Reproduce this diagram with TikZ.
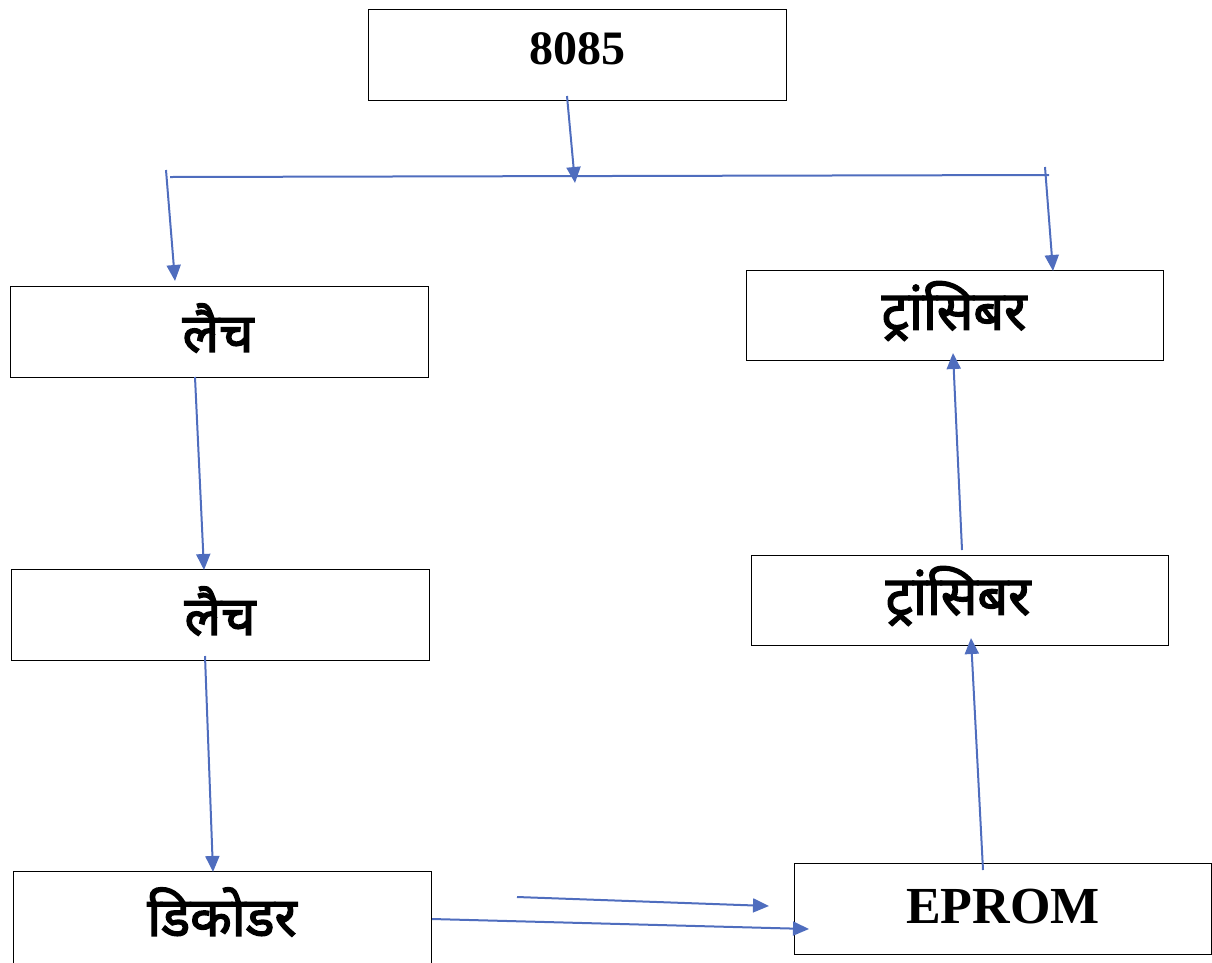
\documentclass[tikz,border=0pt]{standalone}
\usepackage{fontspec}
\setmainfont{Liberation Serif}
\newfontfamily\deva[Script=Devanagari,FakeBold=2.5]{Noto Sans}
\usetikzlibrary{arrows.meta}
\definecolor{arrowblue}{HTML}{4F6DBE}
\tikzset{
  blockbox/.style={draw=black, line width=1pt, inner sep=0pt, anchor=north west},
  latin/.style={font=\bfseries\fontsize{48}{50}\selectfont},
  devtext/.style={font=\deva\fontsize{54}{58}\selectfont},
  conn/.style={draw=arrowblue, line width=2pt},
  arr/.style={conn, -{Triangle[length=16pt,width=14pt]}}
}
\begin{document}
\begin{tikzpicture}[x=1pt,y=-1pt]
\useasboundingbox (0,0) rectangle (1212,962);
% boxes
\node[blockbox, minimum width=418pt, minimum height=91pt] (cpu) at (368,9) {};
\node[latin] (cpuT) at (577,49) {8085};
\node[blockbox, minimum width=418pt, minimum height=91pt] (latchA) at (10,286) {};
\node[devtext] (latchAT) at (218,328) {लैच};
\node[blockbox, minimum width=418pt, minimum height=91pt] (latchB) at (11,569) {};
\node[devtext] (latchBT) at (220,611) {लैच};
\node[blockbox, minimum width=418pt, minimum height=96pt] (dec) at (13,871) {};
\node[devtext] (decT) at (222,912) {डिकोडर};
\node[blockbox, minimum width=417pt, minimum height=91pt] (eprom) at (794,863) {};
\node[latin, font=\bfseries\fontsize{52}{54}\selectfont] (epromT) at (1003,907) {EPROM};
\node[blockbox, minimum width=417pt, minimum height=90pt] (trA) at (746,270) {};
\node[devtext] (trAT) at (954,311) {ट्रांसिबर};
\node[blockbox, minimum width=417pt, minimum height=90pt] (trB) at (751,555) {};
\node[devtext] (trBT) at (958,596) {ट्रांसिबर};
% connector points
\coordinate (c1) at (567,96);
\coordinate (c2) at (575,183);
\coordinate (busL) at (170,177);
\coordinate (busR) at (1049,175);
\coordinate (l1) at (166,170);
\coordinate (l2) at (175,281);
\coordinate (r1) at (1045,167);
\coordinate (r2) at (1053,271);
\coordinate (a1) at (195,377);
\coordinate (a2) at (204,570);
\coordinate (b1) at (205,656);
\coordinate (b2) at (213,872);
\coordinate (d1) at (432,919);
\coordinate (d2) at (809,929);
\coordinate (f1) at (517,897);
\coordinate (f2) at (769,906);
\coordinate (e1) at (983,870);
\coordinate (e2) at (971,638);
\coordinate (t1) at (962,550);
\coordinate (t2) at (953,353);
% connectors
\draw[arr] (c1) -- (c2);
\draw[conn] (busL) -- (busR);
\draw[arr] (l1) -- (l2);
\draw[arr] (r1) -- (r2);
\draw[arr] (a1) -- (a2);
\draw[arr] (b1) -- (b2);
\draw[arr] (d1) -- (d2);
\draw[arr] (f1) -- (f2);
\draw[arr] (e1) -- (e2);
\draw[arr] (t1) -- (t2);
\end{tikzpicture}
\end{document}
